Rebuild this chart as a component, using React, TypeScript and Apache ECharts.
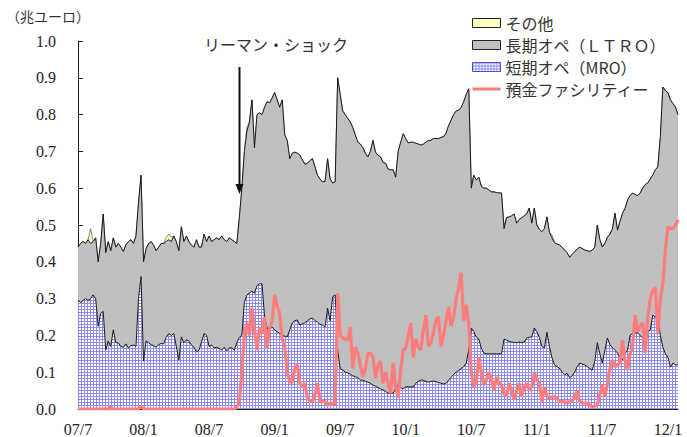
import React, { useEffect, useRef } from 'react';
import * as echarts from 'echarts';

// half-year tick labels (every 26 weeks)
const tickLabels = ['07/7', '08/1', '08/7', '09/1', '09/7', '10/1', '10/7', '11/1', '11/7', '12/1'];
const WEEKS_PER_TICK = 26;

// 短期オペ（MRO）, 兆ユーロ, weekly
const mro = [
  .296, .29, .295, .30, .295, .30, .31, .30, .225, .26, .265, .16, .185, .17, .215, .18, .18, .17, .168, .177, .166, .172, .174, .17, .30, .36,
  .13, .185, .18, .175, .172, .168, .175, .178, .177, .195, .205, .20, .205, .17, .133, .196, .18, .188, .185, .174, .168, .155, .16, .182, .205, .20,
  .17, .174, .166, .168, .165, .16, .168, .158, .166, .166, .16, .18, .195, .20, .29, .31, .315, .32, .315, .335, .34, .34, .25, .22, .215, .223,
  .215, .21, .205, .20, .198, .196, .215, .234, .24, .242, .228, .232, .234, .24, .245, .247, .24, .236, .23, .228, .223, .274, .24, .305, .31, .16,
  .11, .106, .10, .098, .095, .09, .088, .085, .079, .078, .075, .073, .07, .065, .062, .058, .055, .052, .048, .043, .043, .043, .055, .065, .058, .055,
  .06, .06, .06, .06, .07, .075, .079, .078, .075, .073, .075, .076, .074, .072, .07, .068, .07, .078, .086, .094, .10, .105, .11, .115, .125, .16,
  .22, .21, .195, .19, .165, .152, .15, .15, .15, .15, .15, .15, .15, .19, .187, .184, .182, .181, .18, .182, .18, .182, .193, .195, .196, .22,
  .21, .195, .17, .166, .209, .17, .14, .12, .115, .111, .10, .093, .097, .085, .09, .10, .115, .125, .122, .12, .115, .11, .106, .13, .18, .15,
  .125, .16, .193, .175, .166, .16, .152, .14, .133, .15, .16, .20, .205, .207, .207, .20, .193, .20, .21, .215, .255, .25, .247, .20, .168, .15,
  .141, .114, .125, .12, .12,
];

// 長期オペ（LTRO）
const ltro = [
  .144, .16, .16, .15, .165, .15, .145, .165, .175, .19, .265, .265, .27, .26, .25, .26, .27, .27, .26, .269, .289, .288, .276, .30, .26, .275,
  .27, .25, .27, .28, .273, .262, .265, .272, .273, .26, .255, .255, .265, .285, .297, .299, .275, .282, .27, .271, .272, .305, .28, .258, .27, .255,
  .30, .281, .294, .297, .295, .31, .292, .297, .299, .294, .295, .27, .325, .40, .41, .445, .465, .52, .395, .465, .465, .46, .57, .615, .617, .622,
  .645, .63, .615, .64, .547, .534, .465, .461, .458, .453, .462, .445, .431, .428, .43, .433, .418, .399, .395, .389, .395, .406, .385, .309, .307, .74,
  .745, .704, .70, .692, .685, .675, .657, .64, .641, .632, .62, .612, .63, .665, .636, .632, .63, .618, .62, .609, .607, .607, .575, .635, .667, .693,
  .675, .663, .665, .665, .652, .645, .638, .642, .65, .657, .655, .659, .661, .663, .668, .672, .68, .692, .699, .706, .71, .707, .71, .72, .73, .71,
  .38, .425, .427, .44, .44, .448, .45, .445, .44, .44, .438, .437, .437, .30, .333, .338, .343, .349, .325, .333, .34, .343, .337, .351, .309, .326,
  .29, .293, .312, .324, .313, .31, .325, .332, .333, .335, .34, .339, .328, .327, .33, .327, .32, .315, .314, .312, .315, .318, .326, .31, .32, .31,
  .315, .29, .274, .30, .324, .372, .334, .37, .399, .395, .408, .38, .382, .376, .373, .387, .407, .41, .404, .41, .381, .40, .411, .54, .707, .715,
  .719, .726, .705, .70, .68,
];

// その他
const other = [
  0, 0, 0, 0, 0, .04, 0, 0, 0, 0, 0, 0, 0, 0, 0, 0, 0, 0, 0, 0, 0, 0, 0, 0, 0, 0,
  0, 0, 0, 0, 0, 0, 0, 0, 0, .012, .015, .012, 0, 0, 0, 0, 0, 0, 0, 0, 0, 0, 0, 0, 0, 0,
  0, 0, 0, 0, 0, 0, 0, 0, 0, 0, 0, 0, 0, 0, 0, .01, 0, 0, 0, 0, 0, 0, 0, 0, 0, 0,
  0, 0, 0, 0, 0, 0, 0, 0, 0, 0, 0, 0, 0, 0, 0, 0, 0, 0, 0, 0, 0, 0, 0, 0, 0, 0,
  0, 0, 0, 0, 0, 0, 0, 0, 0, 0, 0, 0, 0, 0, 0, 0, 0, 0, 0, 0, 0, 0, 0, 0, 0, 0,
  0, 0, 0, 0, 0, 0, 0, 0, 0, 0, 0, 0, 0, 0, 0, 0, 0, 0, 0, 0, 0, 0, 0, 0, 0, 0,
  .01, 0, 0, 0, 0, 0, 0, 0, 0, 0, 0, 0, 0, .008, 0, 0, 0, 0, 0, 0, 0, 0, 0, 0, 0, 0,
  0, 0, 0, 0, 0, 0, .008, 0, 0, 0, 0, 0, 0, 0, 0, 0, 0, 0, 0, 0, 0, 0, 0, 0, 0, 0,
  0, 0, 0, 0, 0, 0, 0, 0, 0, 0, 0, 0, 0, 0, 0, 0, 0, 0, 0, 0, 0, 0, 0, 0, 0, 0,
  0, 0, 0, 0, 0,
];

// 預金ファシリティー
const deposit = [
  0, 0, 0, 0, 0, 0, 0, 0, 0, 0, 0, 0, 0, .005, 0, 0, 0, 0, 0, 0, 0, 0, 0, 0, 0, .008,
  0, 0, 0, 0, 0, 0, 0, 0, 0, 0, 0, 0, 0, 0, 0, 0, 0, 0, 0, 0, 0, 0, 0, 0, 0, 0,
  0, 0, 0, 0, 0, 0, 0, 0, 0, 0, 0, .005, .02, .10, .20, .235, .20, .275, .215, .16, .22, .205, .25, .165, .22, .24,
  .31, .28, .26, .19, .17, .10, .073, .073, .11, .12, .07, .06, .07, .03, .02, .02, .04, .07, .02, .02, .02, .01, .015, .016, .01, .315,
  .20, .193, .19, .187, .223, .11, .168, .152, .12, .087, .11, .15, .152, .141, .084, .12, .13, .07, .10, .07, .043, .125, .06, .03, .106, .16,
  .165, .20, .233, .14, .19, .17, .16, .215, .255, .17, .18, .209, .24, .25, .17, .20, .24, .277, .225, .25, .30, .33, .37, .24, .283, .23,
  .10, .06, .075, .14, .10, .065, .08, .10, .08, .05, .087, .07, .065, .04, .035, .07, .05, .025, .05, .07, .035, .06, .07, .05, .06, .098,
  .08, .07, .02, .06, .035, .03, .033, .033, .03, .02, .02, .02, .016, .02, .024, .03, .05, .02, .016, .016, .016, .01, .005, .008, .01, .04,
  .065, .035, .07, .11, .133, .114, .12, .125, .187, .13, .106, .15, .17, .255, .21, .225, .234, .152, .25, .30, .323, .33, .206, .30, .342, .432,
  .495, .49, .49, .50, .514,
];

// weekly categories starting 2007-07-04
const weeks: string[] = mro.map((_, i) => {
  const d = new Date(Date.UTC(2007, 6, 4) + i * 7 * 86400000);
  return d.toISOString().slice(0, 10);
});

const NAME_OTHER = 'その他';
const NAME_LTRO = '長期オペ（ＬＴＲＯ）';
const NAME_MRO = '短期オペ（MRO）';
const NAME_DEP = '預金ファシリティー';

const SERIF = 'Liberation Serif, DejaVu Serif, serif';
const JP = 'Noto Sans CJK JP, sans-serif';

function makeGrid(): HTMLCanvasElement {
  const c = document.createElement('canvas');
  c.width = 3;
  c.height = 3;
  const ctx = c.getContext('2d')!;
  ctx.fillStyle = '#ffffff';
  ctx.fillRect(0, 0, 3, 3);
  ctx.fillStyle = '#8c8cee';
  ctx.fillRect(0, 0, 3, 1);
  ctx.fillRect(0, 0, 1, 3);
  return c;
}

export default function App() {
  const ref = useRef<HTMLDivElement>(null);

  useEffect(() => {
    if (!ref.current) return;
    const chart = echarts.init(ref.current, undefined, { renderer: 'svg' });
    const hatch = { image: makeGrid(), repeat: 'repeat' };
    const isTick = (i: number) => i % WEEKS_PER_TICK === 0;

    chart.setOption({
      animation: false,
      backgroundColor: '#ffffff',
      grid: { left: 78, right: 9, top: 41, bottom: 28 },
      legend: {
        orient: 'vertical',
        left: 467,
        top: 10,
        itemWidth: 28,
        itemHeight: 9,
        itemGap: 6,
        selectedMode: false,
        textStyle: { fontFamily: JP, fontSize: 16, color: '#333' },
        data: [
          { name: NAME_OTHER, icon: 'rect', itemStyle: { color: '#ffffc0', borderColor: '#222', borderWidth: 1 } },
          { name: NAME_LTRO, icon: 'rect', itemStyle: { color: '#c0c0c0', borderColor: '#222', borderWidth: 1 } },
          { name: NAME_MRO, icon: 'rect', itemStyle: { color: hatch, borderColor: '#5050c8', borderWidth: 1 } },
          { name: NAME_DEP, icon: 'path://M0,0L28,0L28,3L0,3Z', itemStyle: { color: '#ff7c7c', borderWidth: 0 } },
        ],
      },
      xAxis: {
        type: 'category',
        data: weeks,
        boundaryGap: false,
        axisLine: { lineStyle: { color: '#222', width: 1 } },
        axisTick: { inside: true, length: 5, interval: (i: number) => isTick(i), lineStyle: { color: '#222' } },
        axisLabel: {
          interval: (i: number) => isTick(i),
          formatter: (_v: string, i: number) => tickLabels[Math.round(i / WEEKS_PER_TICK)] ?? '',
          margin: 12,
          fontFamily: SERIF,
          fontSize: 16,
          color: '#222',
        },
        splitLine: { show: false },
      },
      yAxis: {
        type: 'value',
        min: 0,
        max: 1,
        interval: 0.1,
        axisLine: { show: true, lineStyle: { color: '#222', width: 1 } },
        axisTick: { show: true, inside: true, length: 5, lineStyle: { color: '#222' } },
        axisLabel: {
          formatter: (v: number) => v.toFixed(1),
          margin: 22,
          fontFamily: SERIF,
          fontSize: 16,
          color: '#222',
        },
        splitLine: { show: false },
      },
      series: [
        {
          name: NAME_MRO,
          type: 'line',
          stack: 'ops',
          data: mro,
          symbol: 'none',
          z: 3,
          lineStyle: { color: '#1a1a1a', width: 1 },
          areaStyle: { color: hatch, opacity: 1 },
          itemStyle: { color: '#8c8cee' },
        },
        {
          name: NAME_LTRO,
          type: 'line',
          stack: 'ops',
          data: ltro,
          symbol: 'none',
          z: 2,
          lineStyle: { color: '#1a1a1a', width: 1 },
          areaStyle: { color: '#c0c0c0', opacity: 1 },
          itemStyle: { color: '#c0c0c0' },
        },
        {
          name: NAME_OTHER,
          type: 'line',
          stack: 'ops',
          data: other,
          symbol: 'none',
          z: 1,
          lineStyle: { color: '#555', width: 0.7 },
          areaStyle: { color: '#ffffc0', opacity: 1 },
          itemStyle: { color: '#ffffc0' },
        },
        {
          name: NAME_DEP,
          type: 'line',
          data: deposit,
          symbol: 'none',
          z: 4,
          lineStyle: { color: '#ff7c7c', width: 3.2 },
          itemStyle: { color: '#ff7c7c' },
        },
      ],
      graphic: [
        {
          type: 'text',
          left: 6,
          top: 9,
          style: { text: '（兆ユーロ）', fontFamily: JP, fontSize: 14, fill: '#333' },
        },
        {
          type: 'text',
          left: 204,
          top: 36,
          style: { text: 'リーマン・ショック', fontFamily: JP, fontSize: 16, fill: '#333' },
        },
        {
          type: 'line',
          shape: { x1: 239.5, y1: 67, x2: 239.5, y2: 186 },
          style: { stroke: '#111', lineWidth: 2 },
          z: 10,
        },
        {
          type: 'polygon',
          shape: { points: [[235.5, 184], [243.5, 184], [239.5, 194]] },
          style: { fill: '#111' },
          z: 10,
        },
      ],
    });

    return () => chart.dispose();
  }, []);

  return <div ref={ref} style={{ position: 'fixed', left: 0, top: 0, width: 687, height: 437 }} />;
}
